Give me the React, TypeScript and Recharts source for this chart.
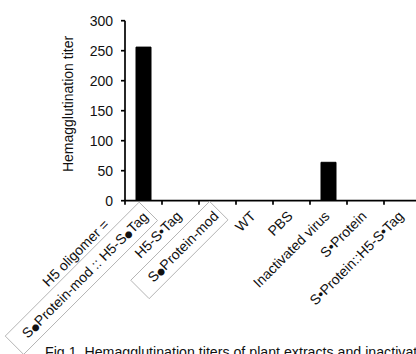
import React, { useLayoutEffect, useRef, useState } from "react";
import { BarChart, Bar, XAxis, YAxis, Label } from "recharts";

// ---- data ----
const categoryLines: string[][] = [
  ["H5 oligomer =", "S●Protein-mod :: H5-S●Tag"],
  ["H5-S•Tag"],
  ["S●Protein-mod"],
  ["WT"],
  ["PBS"],
  ["Inactivated virus"],
  ["S•Protein"],
  ["S•Protein::H5-S•Tag"],
];
const categories: string[] = categoryLines.map((l) => l.join(" "));
const titers: number[] = [256, 0, 0, 0, 0, 64, 0, 0];
const yTicks: number[] = [0, 50, 100, 150, 200, 250, 300];
const boxedLines: string[] = ["S●Protein-mod :: H5-S●Tag", "S●Protein-mod"];
const yLabel = "Hemagglutination titer";
const caption = "Fig 1. Hemagglutination titers of plant extracts and inactivated virus.";

const chartData = categories.map((c, i) => ({ name: c, titer: titers[i] }));

// ---- layout ----
const CHART_W = 425;
const CHART_H = 354;
const MARGIN = { top: 20.7, right: 4, bottom: 0, left: 0 };
const Y_AXIS_W = 125;
const PLOT_H = 180;
const X_AXIS_H = CHART_H - MARGIN.top - MARGIN.bottom - PLOT_H;
const PLOT_W = CHART_W - MARGIN.left - MARGIN.right - Y_AXIS_W;
const BAND = PLOT_W / categories.length;
const FONT = "'Liberation Sans', Arial, Helvetica, sans-serif";
const TEXT_COLOR = "#111";

function RichLine({ text }: { text: string }) {
  const parts = text.split(/(●)/);
  return (
    <>
      {parts.map((p, k) =>
        p === "●" ? (
          <tspan key={k} fontFamily="'DejaVu Sans', sans-serif" fontSize={9}>
            ●
          </tspan>
        ) : (
          <tspan key={k}>{p}</tspan>
        )
      )}
    </>
  );
}

function TickLine({ text, x, y, boxed }: { text: string; x: number; y: number; boxed: boolean }) {
  const ref = useRef<SVGTextElement>(null);
  const [len, setLen] = useState(0);
  useLayoutEffect(() => {
    if (ref.current && boxed) {
      const l = ref.current.getComputedTextLength();
      if (Math.abs(l - len) > 0.5) setLen(l);
    }
  });
  return (
    <g>
      {boxed && len > 0 && (
        <rect
          x={x - len - 14}
          y={y - 18}
          width={len + 18}
          height={26}
          fill="none"
          stroke="#b0b0b0"
          strokeWidth={0.9}
        />
      )}
      <text
        ref={ref}
        x={x}
        y={y}
        textAnchor="end"
        fontFamily={FONT}
        fontSize={14}
        fill={TEXT_COLOR}
      >
        <RichLine text={text} />
      </text>
    </g>
  );
}

function CategoryTick(props: any) {
  const { x, y, payload } = props;
  const i = categories.indexOf(payload.value);
  const lines = categoryLines[i] || [String(payload.value)];
  const left = x - BAND / 2;
  const right = x + BAND / 2;
  return (
    <g>
      <line x1={left} y1={y} x2={left} y2={y + 4} stroke="#000" strokeWidth={1.7} />
      {i === categories.length - 1 && (
        <line x1={right} y1={y} x2={right} y2={y + 4} stroke="#000" strokeWidth={1.7} />
      )}
      <g transform={`translate(${x + 2}, ${y + 16.3}) rotate(-45)`}>
        {lines.length === 1 ? (
          <TickLine text={lines[0]} x={0} y={0} boxed={boxedLines.includes(lines[0])} />
        ) : (
          <>
            <TickLine text={lines[0]} x={-31} y={-19} boxed={boxedLines.includes(lines[0])} />
            <TickLine text={lines[1]} x={2} y={3} boxed={boxedLines.includes(lines[1])} />
          </>
        )}
      </g>
    </g>
  );
}

function YAxisTitle() {
  const cx = 68;
  const cy = MARGIN.top + PLOT_H / 2 - 6.7;
  return (
    <text
      x={cx}
      y={cy}
      transform={`rotate(-90, ${cx}, ${cy})`}
      textAnchor="middle"
      dominantBaseline="central"
      fontFamily={FONT}
      fontSize={14}
      fill={TEXT_COLOR}
    >
      {yLabel}
    </text>
  );
}

export default function App() {
  return (
    <div
      style={{
        position: "fixed",
        left: 0,
        top: 0,
        width: 416,
        height: 354,
        overflow: "hidden",
        background: "#fff",
      }}
    >
      <div style={{ position: "absolute", left: 0, top: 0 }}>
        <BarChart width={CHART_W} height={CHART_H} data={chartData} margin={MARGIN}>
          <XAxis
            dataKey="name"
            type="category"
            interval={0}
            height={X_AXIS_H}
            tickSize={0}
            tickMargin={0}
            tickLine={false}
            axisLine={{ stroke: "#000", strokeWidth: 1.7 }}
            tick={(p: any) => <CategoryTick {...p} />}
          />
          <YAxis
            type="number"
            domain={[0, 300]}
            ticks={yTicks}
            width={Y_AXIS_W}
            tickSize={4}
            tickMargin={8}
            axisLine={{ stroke: "#000", strokeWidth: 1.7 }}
            tickLine={{ stroke: "#000", strokeWidth: 1.7 }}
            tick={{ fontFamily: FONT, fontSize: 14, fill: TEXT_COLOR }}
            allowDataOverflow
          >
            <Label content={() => <YAxisTitle />} />
          </YAxis>
          <Bar dataKey="titer" fill="#000" stroke="#000" barSize={15} isAnimationActive={false} />
        </BarChart>
      </div>
      <div
        style={{
          position: "absolute",
          left: 45,
          top: 344,
          whiteSpace: "nowrap",
          fontFamily: FONT,
          fontSize: 14.2,
          lineHeight: "16px",
          color: TEXT_COLOR,
        }}
      >
        {caption}
      </div>
    </div>
  );
}
